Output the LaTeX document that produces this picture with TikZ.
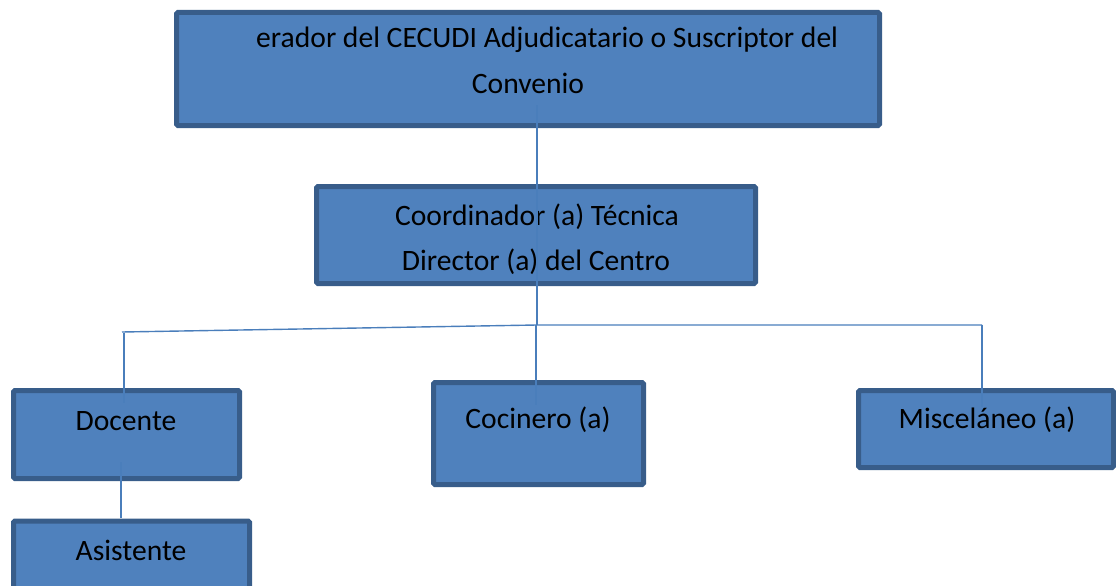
\documentclass[tikz,border=0pt]{standalone}
\usepackage{fontspec}
\setmainfont{Carlito}
\definecolor{boxfill}{HTML}{4F81BD}
\definecolor{boxedge}{HTML}{385D8A}
\definecolor{linkc}{HTML}{4A7EBB}
\begin{document}
\begin{tikzpicture}[x=1pt,y=-1pt,
  box/.style={draw=boxedge, fill=boxfill, line width=5pt, rounded corners=1.5pt, inner sep=0pt, outer sep=0pt},
  txt/.style={anchor=base, inner sep=0pt, font=\fontsize{29.6}{35}\selectfont, text=black},
  link/.style={draw=linkc, line width=1.4pt}]
\useasboundingbox (0,0) rectangle (1116,586);
\clip (0,0) rectangle (1116,586);
% boxes
\node[box, minimum width=703pt, minimum height=113pt] (top) at (528,69) {};
\node[box, minimum width=439pt, minimum height=97pt] (coord) at (536,235) {};
\node[box, minimum width=226pt, minimum height=88pt] (doc) at (126.5,434.5) {};
\node[box, minimum width=236pt, minimum height=80pt] (asis) at (131.5,561) {};
\node[box, minimum width=210pt, minimum height=102pt] (coc) at (538.5,433.5) {};
\node[box, minimum width=255pt, minimum height=77pt] (misc) at (986,429) {};
% texts
\node[txt, anchor=base west] (t1) at (256,48) {erador del CECUDI Adjudicatario o Suscriptor del};
\node[txt] (t2) at (528,93) {Convenio};
\node[txt] (c1) at (537,225) {Coordinador (a) Técnica};
\node[txt] (c2) at (536,270) {Director (a) del Centro};
\node[txt] (d1) at (126,430) {Docente};
\node[txt] (a1) at (131,560) {Asistente};
\node[txt] (k1) at (538,428) {Cocinero (a)};
\node[txt] (m1) at (987,428) {Misceláneo (a)};
% connector points
\coordinate (ps) at (537,105);
\coordinate (pj) at (537,325);
\coordinate (pj2) at (536,325);
\coordinate (pc) at (536,405);
\coordinate (pl) at (122,332);
\coordinate (pl2) at (124,333);
\coordinate (pd) at (124,403);
\coordinate (pr) at (982,325);
\coordinate (pm) at (982,407);
\coordinate (pd2) at (121,462);
\coordinate (pa) at (121,518);
% connectors
\draw[link] (ps) -- (pj);
\draw[link] (pj2) -- (pc);
\draw[link] (pl) -- (pj) -- (pr);
\draw[link] (pl2) -- (pd);
\draw[link] (pr) -- (pm);
\draw[link] (pd2) -- (pa);
\end{tikzpicture}
\end{document}
